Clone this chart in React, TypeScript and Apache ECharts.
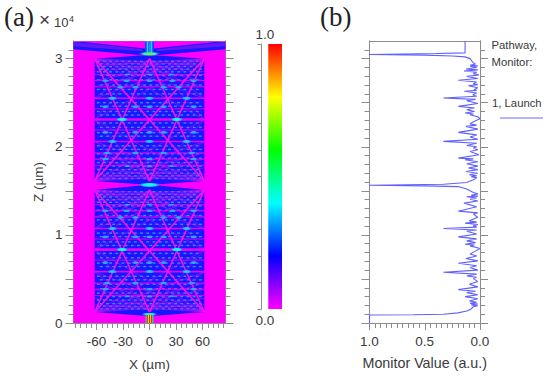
import React, { useEffect, useRef } from "react";
import * as echarts from "echarts";

// ---------- panel (a): field map, all in data units (X in µm, Z in 1e4 µm) ----------
const magenta = "#ff00ff";
const panelBlue = "#1616ff";
const backgroundRects = [[-86, 86, 0, 3.195]];
const bluePolygons = [
  [-62, 1.61, -62, 3.0, -10, 3.035, 10, 3.035, 62, 3.0, 62, 1.61, 10, 1.575, -10, 1.575],
  [-62, 0.125, -62, 1.51, -10, 1.56, 10, 1.56, 62, 1.51, 62, 0.125, 10, 0.085, -10, 0.085],
  [-86, 3.19, -86, 3.105, -10, 3.04, 10, 3.04, 86, 3.105, 86, 3.19],
];
const topMagentaWedges = [
  [-80, 3.195, -5, 3.195, -5, 3.115],
  [80, 3.195, 5, 3.195, 5, 3.115],
];
const topVioletWedges = [
  [-86, 3.19, -86, 3.14, -8, 3.085, -8, 3.105],
  [86, 3.19, 86, 3.14, 8, 3.085, 8, 3.105],
];
const launchStripes = [
  [-4.5, -3, 0, 0.09, "#19e0a0"],
  [-3, -1.8, 0, 0.09, "#ff2a00"],
  [-1.8, -0.6, 0, 0.09, "#c8f000"],
  [-0.6, 0.6, 0, 0.09, "#ff1a00"],
  [0.6, 1.8, 0, 0.09, "#e8e000"],
  [1.8, 3, 0, 0.09, "#ff2a00"],
  [3, 4.5, 0, 0.09, "#19e0a0"],
];
const topColumnStripes = [
  [-4.5, -3, 3.07, 3.195, "#1c6cff"],
  [-3, -1.2, 3.07, 3.195, "#14d8e8"],
  [-1.2, 1.2, 3.07, 3.195, "#2a7cff"],
  [1.2, 3, 3.07, 3.195, "#14d8e8"],
  [3, 4.5, 3.07, 3.195, "#1c6cff"],
];
const textureRowsUpper = [2.97, 2.94, 2.91, 2.88, 2.85, 2.81, 2.76, 2.7, 2.65, 2.6, 2.5, 2.46, 2.4, 2.36, 2.27, 2.22, 2.16, 2.12, 2.01, 1.97, 1.92, 1.87, 1.82, 1.78, 1.74, 1.7, 1.67, 1.64];
const textureRowsLower = [1.49, 1.46, 1.43, 1.4, 1.37, 1.33, 1.28, 1.22, 1.17, 1.12, 1.02, 0.98, 0.92, 0.88, 0.79, 0.74, 0.68, 0.64, 0.53, 0.49, 0.44, 0.39, 0.34, 0.3, 0.26, 0.22, 0.19, 0.16];
const textureColsA = [-58, -51, -44, -37, -30, -23, -16, -9, -2, 5, 12, 19, 26, 33, 40, 47, 54];
const textureColsB = [-54.5, -47.5, -40.5, -33.5, -26.5, -19.5, -12.5, -5.5, 1.5, 8.5, 15.5, 22.5, 29.5, 36.5, 43.5, 50.5, 57.5];
const horizontals = [
  [2.55, 1.6], [2.31, 2.6], [2.06, 1.6], [2.82, 0.9], [2.75, 1], [2.68, 1], [2.43, 0.9], [2.19, 0.9], [1.93, 1], [1.86, 1], [1.79, 0.9],
  [1.072, 1.6], [0.833, 2.6], [0.583, 1.6], [1.343, 0.9], [1.273, 1], [1.203, 1], [0.953, 0.9], [0.713, 0.9], [0.453, 1], [0.383, 1], [0.313, 0.9],
];
const mainDiagonals = [
  [-62, 3.0, 62, 1.61], [62, 3.0, -62, 1.61], [0, 3.0, -62, 1.61], [0, 3.0, 62, 1.61], [0, 1.61, -62, 3.0], [0, 1.61, 62, 3.0],
  [-62, 1.51, 62, 0.125], [62, 1.51, -62, 0.125], [0, 1.51, -62, 0.125], [0, 1.51, 62, 0.125], [0, 0.125, -62, 1.51], [0, 0.125, 62, 1.51],
];
const fanLines = [
  [-62, 3.0, 62, 2.31], [-62, 3.0, 62, 2.55], [-62, 3.0, 62, 2.68], [-62, 3.0, 62, 2.75], [-62, 3.0, 62, 2.85], [-62, 3.0, 62, 2.92],
  [62, 3.0, -62, 2.31], [62, 3.0, -62, 2.55], [62, 3.0, -62, 2.68], [62, 3.0, -62, 2.75], [62, 3.0, -62, 2.85], [62, 3.0, -62, 2.92],
  [-62, 1.61, 62, 2.31], [-62, 1.61, 62, 2.06], [-62, 1.61, 62, 1.93], [-62, 1.61, 62, 1.86], [-62, 1.61, 62, 1.76], [-62, 1.61, 62, 1.69],
  [62, 1.61, -62, 2.31], [62, 1.61, -62, 2.06], [62, 1.61, -62, 1.93], [62, 1.61, -62, 1.86], [62, 1.61, -62, 1.76], [62, 1.61, -62, 1.69],
  [0, 3.0, -62, 2.31], [0, 3.0, 62, 2.31], [0, 3.0, -62, 2.55], [0, 3.0, 62, 2.55], [0, 1.61, -62, 2.31], [0, 1.61, 62, 2.31], [0, 1.61, -62, 2.06], [0, 1.61, 62, 2.06],
  [-62, 1.51, 62, 0.83], [-62, 1.51, 62, 1.07], [-62, 1.51, 62, 1.2], [-62, 1.51, 62, 1.27], [-62, 1.51, 62, 1.37], [-62, 1.51, 62, 1.44],
  [62, 1.51, -62, 0.83], [62, 1.51, -62, 1.07], [62, 1.51, -62, 1.2], [62, 1.51, -62, 1.27], [62, 1.51, -62, 1.37], [62, 1.51, -62, 1.44],
  [-62, 0.125, 62, 0.83], [-62, 0.125, 62, 0.58], [-62, 0.125, 62, 0.45], [-62, 0.125, 62, 0.38], [-62, 0.125, 62, 0.28], [-62, 0.125, 62, 0.21],
  [62, 0.125, -62, 0.83], [62, 0.125, -62, 0.58], [62, 0.125, -62, 0.45], [62, 0.125, -62, 0.38], [62, 0.125, -62, 0.28], [62, 0.125, -62, 0.21],
  [0, 1.51, -62, 0.83], [0, 1.51, 62, 0.83], [0, 1.51, -62, 1.07], [0, 1.51, 62, 1.07], [0, 0.125, -62, 0.83], [0, 0.125, 62, 0.83], [0, 0.125, -62, 0.58], [0, 0.125, 62, 0.58],
];
const spotColors = ["#2ea8ff", "#10e8f8", "#28ffb4", "#90f000"];
// x, z, half width, half height, colour level
const spots = [
  [0, 3.055, 13, 0.028, 3], [0, 1.567, 14, 0.03, 2], [0, 0.1, 10, 0.02, 2],
  [-31, 2.31, 8, 0.026, 2], [31, 2.31, 8, 0.026, 2], [-31, 0.833, 8, 0.026, 2], [31, 0.833, 8, 0.026, 2],
  [-42, 2.55, 6.5, 0.024, 1], [0, 2.55, 6.5, 0.024, 1], [42, 2.55, 6.5, 0.024, 1],
  [-42, 2.06, 6.5, 0.024, 1], [0, 2.06, 6.5, 0.024, 1], [42, 2.06, 6.5, 0.024, 1],
  [-42, 1.072, 6.5, 0.024, 1], [0, 1.072, 6.5, 0.024, 1], [42, 1.072, 6.5, 0.024, 1],
  [-42, 0.583, 6.5, 0.024, 1], [0, 0.583, 6.5, 0.024, 1], [42, 0.583, 6.5, 0.024, 1],
  [-50, 2.75, 5, 0.02, 0], [-26, 2.75, 5, 0.02, 0], [0, 2.75, 5, 0.02, 0], [26, 2.75, 5, 0.02, 0], [50, 2.75, 5, 0.02, 0],
  [-33, 2.674, 5, 0.02, 0], [-16, 2.674, 5, 0.02, 0], [16, 2.674, 5, 0.02, 0], [33, 2.674, 5, 0.02, 0],
  [-50, 2.455, 5, 0.02, 0], [-16, 2.455, 5, 0.02, 0], [0, 2.455, 5, 0.02, 0], [16, 2.455, 5, 0.02, 0], [50, 2.455, 5, 0.02, 0],
  [-50, 2.163, 5, 0.02, 0], [-16, 2.163, 5, 0.02, 0], [0, 2.163, 5, 0.02, 0], [16, 2.163, 5, 0.02, 0], [50, 2.163, 5, 0.02, 0],
  [-48, 1.93, 5, 0.02, 0], [-16, 1.93, 5, 0.02, 0], [16, 1.93, 5, 0.02, 0], [48, 1.93, 5, 0.02, 0],
  [-50, 1.86, 5, 0.02, 0], [0, 1.86, 5, 0.02, 0], [50, 1.86, 5, 0.02, 0],
  [-25, 2.82, 4, 0.015, 0], [0, 2.82, 4, 0.015, 0], [25, 2.82, 4, 0.015, 0], [-25, 1.78, 4, 0.015, 0], [0, 1.78, 4, 0.015, 0], [25, 1.78, 4, 0.015, 0],
  [-50, 1.273, 5, 0.02, 0], [-26, 1.273, 5, 0.02, 0], [0, 1.273, 5, 0.02, 0], [26, 1.273, 5, 0.02, 0], [50, 1.273, 5, 0.02, 0],
  [-33, 1.197, 5, 0.02, 0], [-16, 1.197, 5, 0.02, 0], [16, 1.197, 5, 0.02, 0], [33, 1.197, 5, 0.02, 0],
  [-50, 0.978, 5, 0.02, 0], [-16, 0.978, 5, 0.02, 0], [0, 0.978, 5, 0.02, 0], [16, 0.978, 5, 0.02, 0], [50, 0.978, 5, 0.02, 0],
  [-50, 0.686, 5, 0.02, 0], [-16, 0.686, 5, 0.02, 0], [0, 0.686, 5, 0.02, 0], [16, 0.686, 5, 0.02, 0], [50, 0.686, 5, 0.02, 0],
  [-48, 0.453, 5, 0.02, 0], [-16, 0.453, 5, 0.02, 0], [16, 0.453, 5, 0.02, 0], [48, 0.453, 5, 0.02, 0],
  [-50, 0.383, 5, 0.02, 0], [0, 0.383, 5, 0.02, 0], [50, 0.383, 5, 0.02, 0],
  [-25, 1.343, 4, 0.015, 0], [0, 1.343, 4, 0.015, 0], [25, 1.343, 4, 0.015, 0], [-25, 0.303, 4, 0.015, 0], [0, 0.303, 4, 0.015, 0], [25, 0.303, 4, 0.015, 0],
];
const colorStops = [
  [0, "#ff00ff"], [0.2, "#0000ff"], [0.4, "#00ffff"], [0.6, "#00ff00"], [0.8, "#ffff00"], [1, "#ff0000"],
];

// ---------- panel (b): monitor value vs Z ----------
const monitorPoints = [
  [0.135, 3.2], [0.135, 3.065], [0.4, 3.058], [1, 3.047], [0.5, 3.04], [0.25, 3.03], [0.135, 3.02], [0.09, 3.0], [0.06, 2.95],
  [0.04, 2.94], [0.09, 2.925], [0.02, 2.918], [0.09, 2.913], [0.03, 2.9], [0.127, 2.883], [0.02, 2.872], [0.145, 2.86], [0.03, 2.846], [0.06, 2.83], [0.01, 2.815], [0.12, 2.799], [0.02, 2.775],
  [0.196, 2.754], [0.03, 2.735], [0.06, 2.716], [0.02, 2.705], [0.105, 2.693], [0.02, 2.67], [0.054, 2.648], [0.03, 2.64], [0.142, 2.629], [0.03, 2.61], [0.066, 2.591], [0.03, 2.573],
  [0.331, 2.553], [0.04, 2.538], [0.12, 2.523], [0.02, 2.49], [0.196, 2.458], [0.05, 2.44], [0.12, 2.42], [0.05, 2.4], [0.135, 2.383], [0.06, 2.372], [0.09, 2.364], [0.02, 2.34], [0, 2.318],
  [0.05, 2.29], [0.09, 2.26], [0.03, 2.245], [0.127, 2.231], [0.02, 2.2], [0.196, 2.163], [0.03, 2.135], [0.09, 2.11], [0.02, 2.085], [0.331, 2.061], [0.03, 2.04], [0.12, 2.015],
  [0.03, 2.0], [0.06, 1.985], [0.02, 1.965], [0.09, 1.947], [0.01, 1.91], [0.196, 1.871], [0.06, 1.862], [0.135, 1.852], [0.02, 1.83], [0.12, 1.807], [0.02, 1.78], [0.105, 1.758], [0.02, 1.74], [0.127, 1.72], [0.02, 1.7], [0.096, 1.682], [0.03, 1.67], [0.08, 1.66], [0.03, 1.65],
  [0.04, 1.64], [0.06, 1.625], [0.12, 1.595], [0.33, 1.575], [1, 1.563], [0.5, 1.556], [0.2, 1.548], [0.12, 1.52], [0.06, 1.481],
  [0.02, 1.465], [0.08, 1.45], [0.02, 1.44], [0.12, 1.432], [0.03, 1.418], [0.09, 1.405], [0.02, 1.385], [0.145, 1.36], [0.03, 1.32], [0.196, 1.269], [0.02, 1.25], [0.06, 1.235], [0.02, 1.2], [0.096, 1.159], [0.03, 1.145], [0.135, 1.133], [0.02, 1.118], [0.06, 1.102], [0.03, 1.088],
  [0.331, 1.072], [0.03, 1.055], [0.12, 1.042], [0.03, 1.01], [0.196, 0.977], [0.03, 0.955], [0.12, 0.932], [0.04, 0.912], [0.135, 0.894], [0.05, 0.885], [0.09, 0.875], [0, 0.845],
  [0.05, 0.81], [0.09, 0.784], [0.03, 0.76], [0.127, 0.731], [0.02, 0.705], [0.196, 0.678], [0.03, 0.65], [0.09, 0.629], [0.02, 0.6], [0.331, 0.576], [0.03, 0.555], [0.12, 0.534], [0.03, 0.52], [0.06, 0.504], [0.02, 0.47], [0.096, 0.439], [0.02, 0.41],
  [0.196, 0.379], [0.04, 0.36], [0.12, 0.345], [0.02, 0.32], [0.135, 0.299], [0.02, 0.275], [0.096, 0.25], [0.03, 0.235], [0.09, 0.223], [0.02, 0.215], [0.08, 0.205], [0.02, 0.195], [0.06, 0.186], [0.08, 0.16], [0.12, 0.136], [0.2, 0.115], [0.33, 0.1], [0.6, 0.094], [1, 0.09], [1, 0],
];

const xLabelTicks = [-60, -30, 0, 30, 60];
const xMinorTicks = [-84, -78, -72, -66, -60, -54, -48, -42, -36, -30, -24, -18, -12, -6, 0, 6, 12, 18, 24, 30, 36, 42, 48, 54, 60, 66, 72, 78, 84];
const zLabels = [0, 1, 2, 3];
const zMajorTicks = [0, 0.5, 1, 1.5, 2, 2.5, 3];
const zMinorTicks = [0, 0.1, 0.2, 0.3, 0.4, 0.5, 0.6, 0.7, 0.8, 0.9, 1, 1.1, 1.2, 1.3, 1.4, 1.5, 1.6, 1.7, 1.8, 1.9, 2, 2.1, 2.2, 2.3, 2.4, 2.5, 2.6, 2.7, 2.8, 2.9, 3, 3.1];
const monitorLabels = [0, 0.5, 1];
const monitorMinorTicks = [0, 0.05, 0.1, 0.15, 0.2, 0.25, 0.3, 0.35, 0.4, 0.45, 0.5, 0.55, 0.6, 0.65, 0.7, 0.75, 0.8, 0.85, 0.9, 0.95, 1];
const colorbarTicks = [0, 0.1, 0.2, 0.3, 0.4, 0.5, 0.6, 0.7, 0.8, 0.9, 1];

const gray = "#8c8c8c";
const ink = "#3a3a3a";
const sans = '"Liberation Sans", Arial, sans-serif';
const serif = '"Liberation Serif", "Times New Roman", serif';

function layer(items: any[], draw: (item: any, api: any) => any, xAxisIndex = 0, yAxisIndex = 0) {
  return {
    type: "custom",
    xAxisIndex,
    yAxisIndex,
    silent: true,
    clip: true,
    encode: { x: 0, y: 1 },
    data: items.map((it) => [Array.isArray(it) ? it[0] : 0, Array.isArray(it) ? it[1] : 0]),
    renderItem: (p: any, api: any) => draw(items[p.dataIndex], api),
  };
}
function polygon(color: string, opacity = 1) {
  return (flat: number[], api: any) => {
    const points: number[][] = [];
    for (let i = 0; i < flat.length; i += 2) points.push(api.coord([flat[i], flat[i + 1]]));
    return { type: "polygon", shape: { points }, style: { fill: color, opacity } };
  };
}
function bandRect(item: any[], api: any, fill: any, opacity = 1) {
  const a = api.coord([item[0], item[3]]);
  const b = api.coord([item[1], item[2]]);
  return { type: "rect", shape: { x: a[0], y: a[1], width: b[0] - a[0], height: b[1] - a[1] }, style: { fill, opacity } };
}
function segment(color: string, width: number, opacity: number) {
  return (s: number[], api: any) => {
    const a = api.coord([s[0], s[1]]);
    const b = api.coord([s[2], s[3]]);
    return { type: "line", shape: { x1: a[0], y1: a[1], x2: b[0], y2: b[1] }, style: { stroke: color, lineWidth: width, opacity } };
  };
}

function lattice(rows: number[], shift: boolean) {
  const cells: number[][] = [];
  rows.forEach((z, i) => {
    const cols = (i % 2 === 0) === shift ? textureColsA : textureColsB;
    cols.forEach((x) => cells.push([x, z]));
  });
  return cells;
}

function valueAxis(base: any, ticks: number[], length: number, labels?: number[], fmt?: (v: number) => string) {
  return {
    type: "value",
    splitLine: { show: false },
    axisLine: { show: true, onZero: false, lineStyle: { color: gray, width: 1 } },
    axisTick: { show: true, length, customValues: ticks, lineStyle: { color: gray, width: 1 } },
    axisLabel: labels
      ? { show: true, customValues: labels, color: ink, fontFamily: sans, fontSize: 13.5, margin: 11, formatter: fmt, hideOverlap: false, showMinLabel: true, showMaxLabel: true }
      : { show: false },
    ...base,
  };
}

export default function App() {
  const ref = useRef<HTMLDivElement>(null);
  useEffect(() => {
    document.body.style.margin = "0";
    const chart = echarts.init(ref.current!, undefined, { renderer: "svg" });
    const zRange = { min: 0, max: 3.2 };
    const xRange = { min: -86, max: 86 };
    const monRange = { min: 0, max: 1, inverse: true };
    const oneDec = (v: number) => v.toFixed(1);
    const plain = (v: number) => String(v);
    const option: any = {
      animation: false,
      backgroundColor: "#ffffff",
      grid: [
        { left: 73.5, top: 41, width: 152, height: 282 },
        { left: 369.5, top: 41, width: 110.5, height: 282 },
        { left: 261.5, top: 44, width: 20.5, height: 265 },
      ],
      xAxis: [
        valueAxis({ gridIndex: 0, ...xRange, position: "bottom", name: "X (µm)", nameLocation: "middle", nameGap: 34, nameTextStyle: { color: ink, fontFamily: sans, fontSize: 13.5 } }, xLabelTicks, 7, xLabelTicks, plain),
        valueAxis({ gridIndex: 0, ...xRange, position: "bottom" }, xMinorTicks, 5),
        valueAxis({ gridIndex: 0, ...xRange, position: "top", axisTick: { show: false } }, [], 0),
        valueAxis({ gridIndex: 1, ...monRange, position: "bottom", name: "Monitor Value (a.u.)", nameLocation: "middle", nameGap: 33, nameTextStyle: { color: ink, fontFamily: sans, fontSize: 14.3 } }, monitorLabels, 7, monitorLabels, oneDec),
        valueAxis({ gridIndex: 1, ...monRange, position: "bottom" }, monitorMinorTicks, 5),
        valueAxis({ gridIndex: 1, ...monRange, position: "top", axisTick: { show: false } }, [], 0),
        { type: "value", gridIndex: 2, min: 0, max: 1, show: false },
      ],
      yAxis: [
        valueAxis({ gridIndex: 0, ...zRange, position: "left", name: "Z (µm)", nameLocation: "middle", nameGap: 28, nameTextStyle: { color: ink, fontFamily: sans, fontSize: 13.5 } }, zMajorTicks, 8, zLabels, plain),
        valueAxis({ gridIndex: 0, ...zRange, position: "left" }, zMinorTicks, 5),
        valueAxis({ gridIndex: 0, ...zRange, position: "right" }, zMajorTicks, 8),
        valueAxis({ gridIndex: 0, ...zRange, position: "right" }, zMinorTicks, 5),
        valueAxis({ gridIndex: 1, ...zRange, position: "left" }, zMajorTicks, 8),
        valueAxis({ gridIndex: 1, ...zRange, position: "left" }, zMinorTicks, 5),
        valueAxis({ gridIndex: 1, ...zRange, position: "right" }, zMajorTicks, 8),
        valueAxis({ gridIndex: 1, ...zRange, position: "right" }, zMinorTicks, 5),
        valueAxis({ gridIndex: 2, min: 0, max: 1, position: "left" }, colorbarTicks, 4),
      ],
      series: [
        layer(backgroundRects, (r, api) => bandRect(r, api, magenta)),
        layer(bluePolygons, polygon(panelBlue)),
        layer(topVioletWedges, polygon("#8a18f4", 0.7)),
        layer(topMagentaWedges, polygon(magenta)),
        layer([...lattice(textureRowsUpper, true), ...lattice(textureRowsLower, true)], (c, api) => bandRect([c[0] - 1.6, c[0] + 1.6, c[1] - 0.008, c[1] + 0.008], api, "#4a90ff", 0.9)),
        layer([...lattice(textureRowsUpper, false), ...lattice(textureRowsLower, false)], (c, api) => bandRect([c[0] - 1.3, c[0] + 1.3, c[1] - 0.005, c[1] + 0.005], api, "#8a18ee", 0.45)),
        layer(fanLines, segment("#d014f4", 0.75, 0.7)),
        layer(horizontals, (h, api) => segment(magenta, h[1], 0.9)([-62, h[0], 62, h[0]], api)),
        layer(mainDiagonals, segment("#ff10f0", 1.5, 1)),
        layer(spots, (s, api) => {
          const c = api.coord([s[0], s[1]]);
          const e = api.coord([s[0] + s[2], s[1] + s[3]]);
          return {
            type: "ellipse",
            shape: { cx: c[0], cy: c[1], rx: e[0] - c[0], ry: c[1] - e[1] },
            style: {
              fill: {
                type: "radial", x: 0.5, y: 0.5, r: 0.5,
                colorStops: [
                  { offset: 0, color: spotColors[s[4]] },
                  { offset: 0.55, color: spotColors[Math.max(0, s[4] - 1)] },
                  { offset: 1, color: "rgba(30,60,255,0)" },
                ],
              },
            },
          };
        }),
        layer(topColumnStripes, (r, api) => bandRect(r, api, r[4])),
        layer(launchStripes, (r, api) => bandRect(r, api, r[4])),
        {
          type: "line",
          xAxisIndex: 3,
          yAxisIndex: 4,
          data: monitorPoints,
          showSymbol: false,
          silent: true,
          lineStyle: { color: "#6060ff", width: 1.1 },
        },
        layer([[0.33, 1, 0, 1]], (r, api) => bandRect(r, api, {
          type: "linear", x: 0, y: 1, x2: 0, y2: 0,
          colorStops: colorStops.map((s) => ({ offset: s[0], color: s[1] })),
        }), 6, 8),
      ],
      graphic: [
        { type: "text", x: 4, y: 3, style: { text: "(a)", font: `27px ${serif}`, fill: "#222" } },
        { type: "text", x: 39, y: 10, style: { text: "×", font: `19px ${sans}`, fill: ink } },
        { type: "text", x: 54, y: 16, style: { text: "10", font: `13px ${sans}`, fill: ink } },
        { type: "text", x: 69, y: 14, style: { text: "4", font: `9px ${sans}`, fill: ink } },
        { type: "text", x: 320, y: 3, style: { text: "(b)", font: `27px ${serif}`, fill: "#222" } },
        { type: "text", x: 265, y: 27, style: { text: "1.0", font: `13.5px ${sans}`, fill: ink, align: "center" } },
        { type: "text", x: 265, y: 313, style: { text: "0.0", font: `13.5px ${sans}`, fill: ink, align: "center" } },
        { type: "text", x: 491.5, y: 39, style: { text: "Pathway,", font: `11.3px ${sans}`, fill: ink } },
        { type: "text", x: 491.5, y: 56, style: { text: "Monitor:", font: `11.3px ${sans}`, fill: ink } },
        { type: "text", x: 492, y: 97, style: { text: "1, Launch", font: `11.3px ${sans}`, fill: ink } },
        { type: "line", shape: { x1: 500, y1: 118, x2: 543, y2: 118 }, style: { stroke: "#6868ff", lineWidth: 1 } },
      ],
    };
    chart.setOption(option);
    return () => chart.dispose();
  }, []);
  return <div ref={ref} style={{ width: 550, height: 376 }} />;
}
